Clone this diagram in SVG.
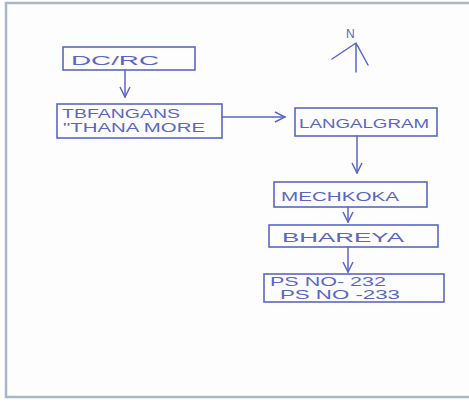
<svg xmlns="http://www.w3.org/2000/svg" width="469" height="403" viewBox="0 0 469 403">
<defs>
<style>
.box{fill:none;stroke:#5a66c4;stroke-width:1.6}
.ln{fill:none;stroke:#5a66c4;stroke-width:1.5;stroke-linecap:round}
.t{font-family:"Liberation Sans",Arial,sans-serif;fill:#5a66c4;font-size:12px}
</style>
<marker id="chev" viewBox="0 0 12 12" refX="11" refY="6" markerWidth="12" markerHeight="12" markerUnits="userSpaceOnUse" orient="auto">
<path d="M1,1 L11,6 L1,11" fill="none" stroke="#5a66c4" stroke-width="1.5"/>
</marker>
</defs>
<rect width="469" height="403" fill="#fff"/>
<rect x="6" y="3" width="470" height="394" fill="#fdfdfe" stroke="#a9b6cc" stroke-width="2.5"/>
<g id="connectors">
<line class="ln" x1="125" y1="70" x2="125" y2="97" marker-end="url(#chev)"/>
<line class="ln" x1="222" y1="117" x2="285" y2="117" marker-end="url(#chev)"/>
<line class="ln" x1="357" y1="136" x2="357" y2="173" marker-end="url(#chev)"/>
<line class="ln" x1="348" y1="207" x2="348" y2="222" marker-end="url(#chev)"/>
<line class="ln" x1="348" y1="247" x2="348" y2="272" marker-end="url(#chev)"/>
</g>
<g id="north">
<text class="t" x="346" y="38" font-size="16">N</text>
<path class="ln" d="M332,59 L356,43 L368,65 M356,43 L356,72"/>
</g>
<g id="dcrc">
<rect class="box" x="63" y="47" width="132" height="23"/>
<text class="t" x="71" y="65" font-size="17" textLength="88" lengthAdjust="spacingAndGlyphs">DC/RC</text>
</g>
<g id="tbfangans">
<rect class="box" x="57" y="104" width="165" height="34"/>
<text class="t" x="62" y="118" font-size="14" textLength="118" lengthAdjust="spacingAndGlyphs">TBFANGANS</text>
<text class="t" x="63" y="132" font-size="14" textLength="142" lengthAdjust="spacingAndGlyphs">"THANA MORE</text>
</g>
<g id="langalgram">
<rect class="box" x="295" y="108" width="142" height="28"/>
<text class="t" x="299" y="128" font-size="14" textLength="130" lengthAdjust="spacingAndGlyphs">LANGALGRAM</text>
</g>
<g id="mechkoka">
<rect class="box" x="274" y="182" width="153" height="25"/>
<text class="t" x="281" y="201" font-size="14" textLength="118" lengthAdjust="spacingAndGlyphs">MECHKOKA</text>
</g>
<g id="bhareya">
<rect class="box" x="269" y="225" width="169" height="22"/>
<text class="t" x="282" y="242" font-size="14" textLength="122" lengthAdjust="spacingAndGlyphs">BHAREYA</text>
</g>
<g id="psno">
<rect class="box" x="264" y="274" width="180" height="28"/>
<text class="t" x="270" y="286" font-size="11.5" textLength="116" lengthAdjust="spacingAndGlyphs">PS NO- 232</text>
<text class="t" x="280" y="299" font-size="11.5" textLength="120" lengthAdjust="spacingAndGlyphs">PS NO -233</text>
</g>
</svg>
